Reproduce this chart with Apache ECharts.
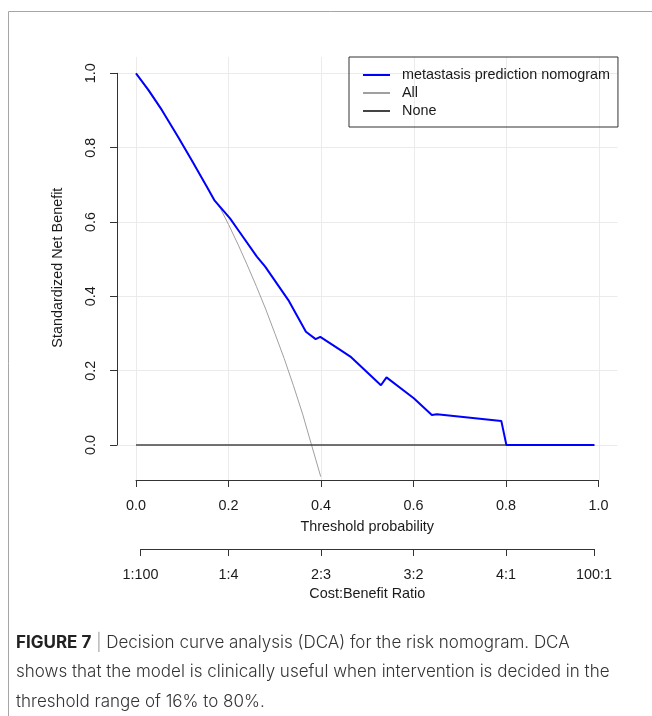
<!DOCTYPE html>
<html>
<head>
<meta charset="utf-8">
<script src="https://cdn.jsdelivr.net/npm/echarts@6/dist/echarts.min.js"></script>
<style>
  html, body { margin: 0; padding: 0; background: #fff; }
  #dcaChart { width: 652px; height: 716px; }
</style>
</head>
<body>
<div id="dcaChart"></div>
<script>
// threshold probability / standardized net benefit
var modelX = [0, 0.027, 0.056, 0.091, 0.12, 0.153, 0.169, 0.203, 0.221, 0.261, 0.279, 0.329, 0.367, 0.388, 0.398, 0.441, 0.463, 0.529, 0.541, 0.600, 0.639, 0.650, 0.789, 0.800, 0.99];
var modelY = [1.0, 0.955, 0.901, 0.829, 0.767, 0.695, 0.659, 0.610, 0.578, 0.507, 0.480, 0.390, 0.305, 0.285, 0.291, 0.256, 0.238, 0.161, 0.182, 0.126, 0.081, 0.083, 0.065, 0.0, 0.0];
var allX = [0, 0.056, 0.12, 0.169, 0.182, 0.2, 0.221, 0.24, 0.26, 0.28, 0.3, 0.32, 0.34, 0.36, 0.378, 0.399];
var allY = [1.0, 0.901, 0.767, 0.659, 0.637, 0.593, 0.538, 0.485, 0.427, 0.366, 0.30, 0.233, 0.16, 0.083, 0.005, -0.085];
var noneX = [0, 0.99];
var noneY = [0, 0];

var probTicks = [0, 0.2, 0.4, 0.6, 0.8, 1.0];
var costTicks = [1 / 101, 0.2, 0.4, 0.6, 0.8, 100 / 101];
var costLabels = ['1:100', '1:4', '2:3', '3:2', '4:1', '100:1'];

function pairs(xs, ys) {
  var out = [];
  for (var i = 0; i < xs.length; i++) out.push([xs[i], ys[i]]);
  return out;
}

var font = 'Liberation Sans, Arial, sans-serif';
var capFont = 'Inter, Roboto, sans-serif';
var txt = '#1a1a1a';
var axisCol = '#333';

// grid lines of the plot region
var gridLines = [];
probTicks.forEach(function (v) {
  gridLines.push({ xAxis: v });
  gridLines.push({ yAxis: v });
});

var chart = echarts.init(document.getElementById('dcaChart'));

var option = {
  animation: false,
  backgroundColor: '#fff',
  grid: [
    // full plot region (R adds 4% on each side)
    { left: 117.5, right: 34.5, top: 57, bottom: 236 },
    // 0..1 box, used only for the axes
    { left: 136, right: 53.5, top: 73.3, bottom: 271 },
    // cost:benefit axis, 1:100 .. 100:1
    { left: 140.6, right: 58, top: 73.3, bottom: 271 }
  ],
  xAxis: [
    { type: 'value', gridIndex: 0, min: -0.04, max: 1.04, show: false },
    {
      type: 'value', gridIndex: 1, min: 0, max: 1, interval: 0.2, position: 'bottom', offset: 35,
      name: 'Threshold probability', nameLocation: 'middle', nameGap: 40,
      nameTextStyle: { fontFamily: font, fontSize: 14.4, color: txt },
      axisLine: { onZero: false, lineStyle: { color: axisCol, width: 1 } },
      axisTick: { length: 7, lineStyle: { color: axisCol } },
      axisLabel: { margin: 19, fontFamily: font, fontSize: 14.4, color: txt,
        formatter: function (v) { return v.toFixed(1); } },
      splitLine: { show: false }
    },
    {
      type: 'value', gridIndex: 2, min: costTicks[0], max: costTicks[5], position: 'bottom', offset: 104,
      name: 'Cost:Benefit Ratio', nameLocation: 'middle', nameGap: 38,
      nameTextStyle: { fontFamily: font, fontSize: 14.4, color: txt },
      axisLine: { onZero: false, lineStyle: { color: axisCol, width: 1 } },
      axisTick: { length: 7, lineStyle: { color: axisCol }, customValues: costTicks },
      axisLabel: { margin: 19, fontFamily: font, fontSize: 14.4, color: txt, customValues: costTicks,
        showMinLabel: true, showMaxLabel: true,
        formatter: function (v) {
          var best = 0;
          for (var i = 1; i < costTicks.length; i++) {
            if (Math.abs(costTicks[i] - v) < Math.abs(costTicks[best] - v)) best = i;
          }
          return costLabels[best];
        } },
      splitLine: { show: false }
    }
  ],
  yAxis: [
    { type: 'value', gridIndex: 0, min: -0.094, max: 1.044, show: false },
    {
      type: 'value', gridIndex: 1, min: 0, max: 1, interval: 0.2, position: 'left', offset: 19,
      name: 'Standardized Net Benefit', nameLocation: 'middle', nameGap: 52,
      // R centres the title on the whole plot region, a bit lower than 0..1
      nameTextStyle: { fontFamily: font, fontSize: 14.4, color: txt, padding: [0, 17, 0, 0] },
      axisLine: { show: true, onZero: false, lineStyle: { color: axisCol, width: 1 } },
      axisTick: { show: true, length: 7, lineStyle: { color: axisCol } },
      axisLabel: { margin: 19, rotate: 90, fontFamily: font, fontSize: 14.4, color: txt,
        formatter: function (v) { return v.toFixed(1); } },
      splitLine: { show: false }
    },
    { type: 'value', gridIndex: 2, min: 0, max: 1, show: false }
  ],
  legend: {
    orient: 'vertical',
    left: 349, top: 57,
    padding: [11, 8, 9, 13],
    borderColor: '#333', borderWidth: 1, borderRadius: 0,
    itemWidth: 27, itemHeight: 14, itemGap: 4,
    itemStyle: { opacity: 0 },
    textStyle: { fontFamily: font, fontSize: 14.4, color: txt, padding: [0, 0, 0, 7] },
    data: ['metastasis prediction nomogram', 'All', 'None']
  },
  series: [
    {
      name: 'grid', type: 'line', xAxisIndex: 0, yAxisIndex: 0, data: [], z: 0, silent: true,
      markLine: {
        silent: true, symbol: 'none', z: 0, animation: false,
        label: { show: false },
        lineStyle: { color: '#EBEBEB', width: 1, type: 'solid' },
        emphasis: { disabled: true },
        data: gridLines
      }
    },
    {
      name: 'All', type: 'line', xAxisIndex: 0, yAxisIndex: 0, data: pairs(allX, allY),
      symbol: 'none', smooth: false, z: 2, clip: false,
      lineStyle: { color: '#A0A0A0', width: 1 }, itemStyle: { color: '#A0A0A0' }
    },
    {
      name: 'None', type: 'line', xAxisIndex: 0, yAxisIndex: 0, data: pairs(noneX, noneY),
      symbol: 'none', z: 3,
      lineStyle: { color: '#444', width: 1.5 }, itemStyle: { color: '#444' }
    },
    {
      name: 'metastasis prediction nomogram', type: 'line', xAxisIndex: 0, yAxisIndex: 0,
      data: pairs(modelX, modelY), symbol: 'none', z: 4,
      lineStyle: { color: '#0000FF', width: 2 }, itemStyle: { color: '#0000FF' }
    }
  ],
  graphic: [
    { type: 'line', shape: { x1: 8.5, y1: 11.5, x2: 652, y2: 11.5 }, style: { stroke: '#A6A6A6', lineWidth: 1 } },
    { type: 'line', shape: { x1: 8.5, y1: 11.5, x2: 8.5, y2: 716 }, style: { stroke: '#A6A6A6', lineWidth: 1 } },
    {
      type: 'text', left: 16, top: 628,
      style: {
        text: '{b|FIGURE 7} {bar||} Decision curve analysis (DCA) for the risk nomogram. DCA\n' +
              'shows that the model is clinically useful when intervention is decided in the\n' +
              'threshold range of 16% to 80%.',
        font: '300 17px ' + capFont,
        fill: '#333',
        lineHeight: 29.5,
        rich: {
          b: { fontWeight: 'bold', fontSize: 17, fontFamily: capFont, fill: '#222', lineHeight: 29.5 },
          bar: { fontWeight: 300, fontSize: 17, fontFamily: capFont, fill: '#999', lineHeight: 29.5 }
        }
      }
    }
  ]
};

chart.setOption(option);
window.addEventListener('resize', function () { chart.resize(); });
</script>
</body>
</html>
